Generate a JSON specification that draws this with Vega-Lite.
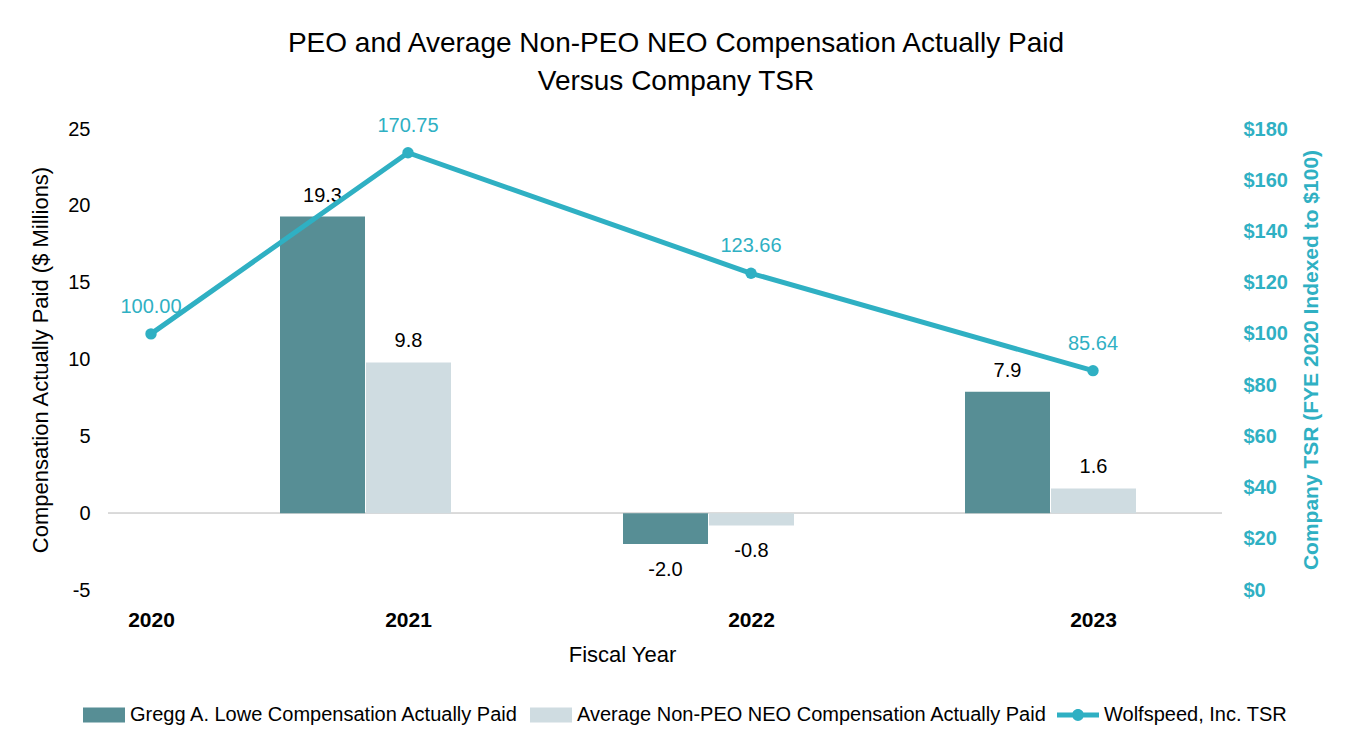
{
  "$schema": "https://vega.github.io/schema/vega-lite/v6.json",
  "autosize": {"type": "none"},
  "width": 1114,
  "height": 461,
  "padding": {"left": 108, "top": 129, "right": 130, "bottom": 159},
  "background": "white",
  "config": {
    "font": "Liberation Sans",
    "view": {"stroke": null},
    "locale": {"number": {"decimal": ".", "thousands": ",", "grouping": [3], "currency": ["$", ""], "minus": "-"}}
  },
  "title": {
    "text": ["PEO and Average Non-PEO NEO Compensation Actually Paid", "Versus Company TSR"],
    "fontSize": 28, "fontWeight": "normal", "color": "#000000",
    "anchor": "middle", "offset": 20, "lineHeight": 38, "dx": 11
  },
  "data": {
    "values": [
      {"year": 2020, "peo": null, "neo": null, "tsr": 100.00},
      {"year": 2021, "peo": 19.3, "neo": 9.8, "tsr": 170.75},
      {"year": 2022, "peo": -2.0, "neo": -0.8, "tsr": 123.66},
      {"year": 2023, "peo": 7.9, "neo": 1.6, "tsr": 85.64}
    ]
  },
  "layer": [
    {
      "layer": [
        {
          "mark": {"type": "rule", "color": "#d9d9d9", "strokeWidth": 1.5},
          "encoding": {
            "y": {"datum": 0, "type": "quantitative", "title": "Compensation Actually Paid ($ Millions)"}
          }
        },
        {
          "mark": {"type": "bar", "width": 85, "xOffset": -85.5},
          "encoding": {
            "x": {
              "field": "year", "type": "quantitative",
              "scale": {"domain": [2020, 2021, 2022, 2023], "range": [43, 300, 643, 985], "nice": false, "zero": false, "padding": 0},
              "axis": {
                "title": "Fiscal Year", "values": [2020, 2021, 2022, 2023], "format": "d",
                "domain": false, "ticks": false, "grid": false, "labelFlush": false, "labelOverlap": false,
                "labelFontSize": 21, "labelFontWeight": "bold", "labelColor": "#000000", "labelPadding": 19,
                "titleFontSize": 22, "titleFontWeight": "normal", "titleColor": "#000000", "titlePadding": 14
              }
            },
            "y": {
              "field": "peo", "type": "quantitative", "title": "Compensation Actually Paid ($ Millions)",
              "scale": {"domain": [-5, 25], "nice": false, "zero": false},
              "axis": {
                "values": [-5, 0, 5, 10, 15, 20, 25], "domain": false, "ticks": false, "grid": false,
                "labelFontSize": 20, "labelColor": "#000000", "labelPadding": 18,
                "titleFontSize": 22, "titleFontWeight": "normal", "titleColor": "#000000", "titlePadding": 15
              }
            },
            "color": {
              "datum": "Gregg A. Lowe Compensation Actually Paid",
              "scale": {
                "domain": ["Gregg A. Lowe Compensation Actually Paid", "Average Non-PEO NEO Compensation Actually Paid", "Wolfspeed, Inc. TSR"],
                "range": ["#578e95", "#cfdce1", "#2fb0c3"]
              },
              "legend": {
                "orient": "none", "legendX": -25, "legendY": 565, "direction": "horizontal",
                "title": null, "padding": 0, "labelFontSize": 20, "labelColor": "#000000", "labelLimit": 0,
                "symbolSize": 1764, "labelOffset": 5, "columnPadding": 10,
                "encode": {
                  "symbols": {
                    "update": {
                      "shape": {"signal": "datum.value === 'Wolfspeed, Inc. TSR' ? 'M-1,-0.12H1V0.12H-1Z M0.28,0A0.28,0.28 0 1,1 -0.28,0A0.28,0.28 0 1,1 0.28,0Z' : 'M-1,-0.36H1V0.36H-1Z'"},
                      "fill": {"scale": "color", "field": "value"},
                      "strokeWidth": {"value": 0},
                      "opacity": {"value": 1},
                      "fillOpacity": {"value": 1}
                    }
                  }
                }
              }
            }
          }
        },
        {
          "mark": {"type": "bar", "width": 85, "xOffset": 0.5},
          "encoding": {
            "x": {"field": "year", "type": "quantitative"},
            "y": {"field": "neo", "type": "quantitative", "title": "Compensation Actually Paid ($ Millions)"},
            "color": {"datum": "Average Non-PEO NEO Compensation Actually Paid"}
          }
        },
        {
          "transform": [{"filter": "isValid(datum.peo) && datum.peo >= 0"}],
          "mark": {"type": "text", "fontSize": 20, "color": "#000000", "baseline": "middle", "dy": -21, "xOffset": -85.5},
          "encoding": {
            "x": {"field": "year", "type": "quantitative"},
            "y": {"field": "peo", "type": "quantitative", "title": "Compensation Actually Paid ($ Millions)"},
            "text": {"field": "peo", "type": "quantitative", "format": ".1f"}
          }
        },
        {
          "transform": [{"filter": "isValid(datum.peo) && datum.peo < 0"}],
          "mark": {"type": "text", "fontSize": 20, "color": "#000000", "baseline": "middle", "dy": 26, "xOffset": -85.5},
          "encoding": {
            "x": {"field": "year", "type": "quantitative"},
            "y": {"field": "peo", "type": "quantitative", "title": "Compensation Actually Paid ($ Millions)"},
            "text": {"field": "peo", "type": "quantitative", "format": ".1f"}
          }
        },
        {
          "transform": [{"filter": "isValid(datum.neo) && datum.neo >= 0"}],
          "mark": {"type": "text", "fontSize": 20, "color": "#000000", "baseline": "middle", "dy": -22, "xOffset": 0.5},
          "encoding": {
            "x": {"field": "year", "type": "quantitative"},
            "y": {"field": "neo", "type": "quantitative", "title": "Compensation Actually Paid ($ Millions)"},
            "text": {"field": "neo", "type": "quantitative", "format": ".1f"}
          }
        },
        {
          "transform": [{"filter": "isValid(datum.neo) && datum.neo < 0"}],
          "mark": {"type": "text", "fontSize": 20, "color": "#000000", "baseline": "middle", "dy": 26, "xOffset": 0.5},
          "encoding": {
            "x": {"field": "year", "type": "quantitative"},
            "y": {"field": "neo", "type": "quantitative", "title": "Compensation Actually Paid ($ Millions)"},
            "text": {"field": "neo", "type": "quantitative", "format": ".1f"}
          }
        }
      ]
    },
    {
      "layer": [
        {
          "mark": {"type": "line", "strokeWidth": 5, "point": {"filled": true, "size": 130}},
          "encoding": {
            "x": {"field": "year", "type": "quantitative"},
            "y": {
              "field": "tsr", "type": "quantitative", "title": "Company TSR (FYE 2020 Indexed to $100)",
              "scale": {"domain": [0, 180], "nice": false, "zero": false},
              "axis": {
                "orient": "right", "values": [0, 20, 40, 60, 80, 100, 120, 140, 160, 180], "format": "$.0f",
                "domain": false, "ticks": false, "grid": false,
                "labelFontSize": 20, "labelFontWeight": "bold", "labelColor": "#2fb0c3", "labelPadding": 21,
                "titleFontSize": 21, "titleFontWeight": "bold", "titleColor": "#2fb0c3", "titlePadding": 34, "titleAngle": 270
              }
            },
            "color": {"datum": "Wolfspeed, Inc. TSR"}
          }
        },
        {
          "mark": {"type": "text", "fontSize": 20, "color": "#2fb0c3", "baseline": "middle", "dy": -27},
          "encoding": {
            "x": {"field": "year", "type": "quantitative"},
            "y": {"field": "tsr", "type": "quantitative", "title": "Company TSR (FYE 2020 Indexed to $100)"},
            "text": {"field": "tsr", "type": "quantitative", "format": ".2f"}
          }
        }
      ]
    }
  ],
  "resolve": {"scale": {"y": "independent"}}
}
